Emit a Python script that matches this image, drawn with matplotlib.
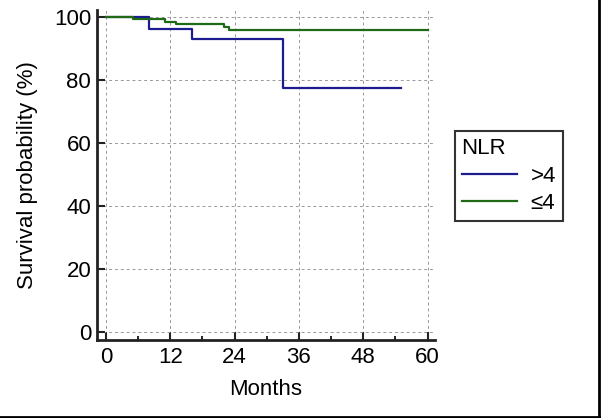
import matplotlib
matplotlib.use('Agg')
import matplotlib.pyplot as plt
from matplotlib.lines import Line2D

plt.rcParams['font.family'] = ['Liberation Sans', 'DejaVu Sans']

# Kaplan-Meier steps (months, survival %)
t_high = [0, 8, 16, 33, 55]
s_high = [100, 96.3, 92.9, 77.4, 77.4]
t_low = [0, 5, 11, 13, 22, 23, 60]
s_low = [100, 99.3, 98.4, 97.7, 96.8, 95.8, 95.8]

x_ticks = [0, 12, 24, 36, 48, 60]
y_ticks = [0, 20, 40, 60, 80, 100]

blue = '#1c1c8f'
green = '#1f6a16'
fs = 16

fig = plt.figure(figsize=(6.01, 4.18), dpi=100)
ax = fig.add_axes([0.161, 0.187, 0.563, 0.789])

ax.plot(t_high, s_high, drawstyle='steps-post', color=blue, lw=1.6)
ax.plot(t_low, s_low, drawstyle='steps-post', color=green, lw=1.6)

ax.set_xlim(-1.7, 61.4)
ax.set_ylim(-2.4, 102.2)
ax.set_xticks(x_ticks)
ax.set_xticks(range(6, 60, 12), minor=True)
ax.set_yticks(y_ticks)
ax.grid(True, which='major', linestyle=(0, (3, 3)), color='#999999', lw=0.7)

for side in ['top', 'right']:
    ax.spines[side].set_visible(False)
for side in ['left', 'bottom']:
    ax.spines[side].set_linewidth(2)
    ax.spines[side].set_color('#222222')
ax.tick_params(direction='in', length=6, width=1.5, labelsize=fs, colors='#222222', labelcolor='black')
ax.tick_params(which='minor', direction='in', length=3, width=1.2)
ax.tick_params(axis='x', pad=5)
ax.tick_params(axis='y', pad=4)

ax.set_xlabel('Months', fontsize=fs, labelpad=8)
ax.set_ylabel('Survival probability (%)', fontsize=fs)
ax.yaxis.set_label_coords(-0.174, 0.5)

handles = [Line2D([], [], color=blue, lw=1.6), Line2D([], [], color=green, lw=1.6)]
leg = fig.legend(handles, ['>4', '≤4'], title='NLR', loc='upper left',
                 bbox_to_anchor=(0.757, 0.686), fontsize=fs, title_fontsize=fs,
                 frameon=True, fancybox=False, edgecolor='black', handlelength=2.5,
                 borderpad=0.3, labelspacing=0.3, handletextpad=0.6, borderaxespad=0)
leg._legend_box.align = 'left'
leg.get_frame().set_linewidth(1.5)

# figure border on right and bottom
fig.add_artist(Line2D([0.997, 0.997], [0.003, 1], color='black', lw=2, transform=fig.transFigure))
fig.add_artist(Line2D([0, 0.997], [0.003, 0.003], color='black', lw=2, transform=fig.transFigure))

fig.savefig('out.png', dpi=100)
